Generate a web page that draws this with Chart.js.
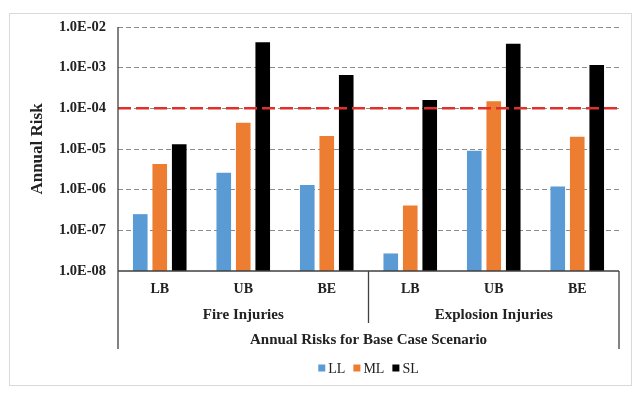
<!DOCTYPE html>
<html>
<head>
<meta charset="utf-8">
<script src="https://cdn.jsdelivr.net/npm/chart.js@4.4.1/dist/chart.umd.min.js"></script>
<style>
  html, body { margin: 0; padding: 0; background: #fff; }
  #wrap { width: 635px; height: 394px; position: relative; }
</style>
</head>
<body>
<div id="wrap"><canvas id="riskChart" width="635" height="394"></canvas></div>
<script>
// data
const cases = ['LB', 'UB', 'BE', 'LB', 'UB', 'BE'];
const groups = ['Fire Injuries', 'Explosion Injuries'];
const llValues = [2.5e-7, 2.6e-6, 1.3e-6, 2.7e-8, 9.1e-6, 1.2e-6];
const mlValues = [4.3e-6, 4.4e-5, 2.1e-5, 4.1e-7, 1.5e-4, 2.0e-5];
const slValues = [1.3e-5, 4.2e-3, 6.6e-4, 1.6e-4, 3.9e-3, 1.16e-3];
const yTicks = [1e-8, 1e-7, 1e-6, 1e-5, 1e-4, 1e-3, 1e-2];
const limitValue = 1e-4;

const serif = '"Liberation Serif", "Times New Roman", serif';

function sci(v) {
    const e = Math.round(Math.log10(v));
    const s = e < 0 ? '-' : '+';
    const a = Math.abs(e);
    return '1.0E' + s + (a < 10 ? '0' + a : a);
}

// frame, limit line, group labels, legend
const extras = {
    id: 'extras',
    beforeDraw(chart) {
        const ctx = chart.ctx;
        ctx.save();
        ctx.strokeStyle = '#d9d9d9';
        ctx.lineWidth = 1;
        ctx.strokeRect(9.5, 13.5, 622, 372);
        ctx.restore();
    },
    afterDatasetsDraw(chart) {
        const ctx = chart.ctx;
        const area = chart.chartArea;
        const y = chart.scales.y.getPixelForValue(limitValue);
        ctx.save();
        ctx.strokeStyle = '#e0302c';
        ctx.lineWidth = 2.5;
        ctx.setLineDash([13, 5]);
        ctx.beginPath();
        ctx.moveTo(area.left, y);
        ctx.lineTo(area.right + 3, y);
        ctx.stroke();
        ctx.restore();
    },
    afterDraw(chart) {
        const ctx = chart.ctx;
        const area = chart.chartArea;
        const x = chart.scales.x;
        const mid = (x.getPixelForValue(2) + x.getPixelForValue(3)) / 2;
        ctx.save();
        ctx.strokeStyle = '#404040';
        ctx.lineWidth = 1.3;
        ctx.beginPath();
        ctx.moveTo(area.left, area.top);
        ctx.lineTo(area.left, 349);
        ctx.moveTo(area.right, area.bottom);
        ctx.lineTo(area.right, 349);
        ctx.moveTo(area.right, area.bottom);
        ctx.lineTo(area.left, area.bottom);
        ctx.moveTo(mid, area.bottom);
        ctx.lineTo(mid, 323);
        ctx.stroke();

        ctx.fillStyle = '#222';
        ctx.textAlign = 'center';
        ctx.textBaseline = 'middle';
        ctx.font = 'bold 15px ' + serif;
        ctx.fillText(groups[0], (area.left + mid) / 2, 315);
        ctx.fillText(groups[1], (mid + area.right) / 2, 315);
        ctx.fillText('Annual Risks for Base Case Scenario', (area.left + area.right) / 2, 340);

        // legend
        const items = chart.data.datasets.map(d => ({ label: d.label, color: d.backgroundColor }));
        ctx.font = '14px ' + serif;
        const box = 7, gapBox = 3, gapItem = 8;
        let total = 0;
        items.forEach((it, i) => {
            it.w = box + gapBox + ctx.measureText(it.label).width;
            total += it.w + (i ? gapItem : 0);
        });
        let lx = (area.left + area.right) / 2 - total / 2;
        const ly = 368;
        ctx.textAlign = 'left';
        items.forEach(it => {
            ctx.fillStyle = it.color;
            ctx.fillRect(lx, ly - box / 2, box, box);
            ctx.fillStyle = '#222';
            ctx.fillText(it.label, lx + box + gapBox, ly + 1);
            lx += it.w + gapItem;
        });
        ctx.restore();
    }
};

const chart = new Chart(document.getElementById('riskChart').getContext('2d'), {
    type: 'bar',
    data: {
        labels: cases,
        datasets: [
            { label: 'LL', data: llValues, backgroundColor: '#5b9bd5' },
            { label: 'ML', data: mlValues, backgroundColor: '#ed7d31' },
            { label: 'SL', data: slValues, backgroundColor: '#000000' }
        ]
    },
    options: {
        responsive: false,
        animation: false,
        devicePixelRatio: 1,
        categoryPercentage: 0.70,
        barPercentage: 0.75,
        layout: { padding: { left: 0, right: 16, top: 27, bottom: 0 } },
        plugins: {
            legend: { display: false },
            tooltip: { enabled: false }
        },
        scales: {
            x: {
                grid: { display: false, drawTicks: false },
                border: { display: false },
                ticks: {
                    color: '#222',
                    padding: 10,
                    font: { family: serif, size: 14, weight: 'bold' }
                },
                afterFit(scale) { scale.height = 394 - 271; }
            },
            y: {
                type: 'logarithmic',
                min: 1e-8,
                max: 1e-2,
                afterBuildTicks(scale) {
                    scale.ticks = yTicks.map(v => ({ value: v }));
                },
                afterFit(scale) { scale.width = 118; },
                grid: {
                    drawTicks: false,
                    color: ctx => (ctx.tick && ctx.tick.value === 1e-8) ? 'rgba(0,0,0,0)' : '#8c8c8c',
                    lineWidth: 1
                },
                // in v4 border.dash sets the grid line dash
                border: { display: false, dash: [5, 3] },
                ticks: {
                    color: '#222',
                    padding: 12,
                    font: { family: serif, size: 14.5, weight: 'bold' },
                    callback: v => sci(v)
                },
                title: {
                    display: true,
                    text: 'Annual Risk',
                    color: '#222',
                    padding: { top: 27, bottom: 0 },
                    font: { family: serif, size: 17, weight: 'bold' }
                }
            }
        }
    },
    plugins: [extras]
});
</script>
</body>
</html>
